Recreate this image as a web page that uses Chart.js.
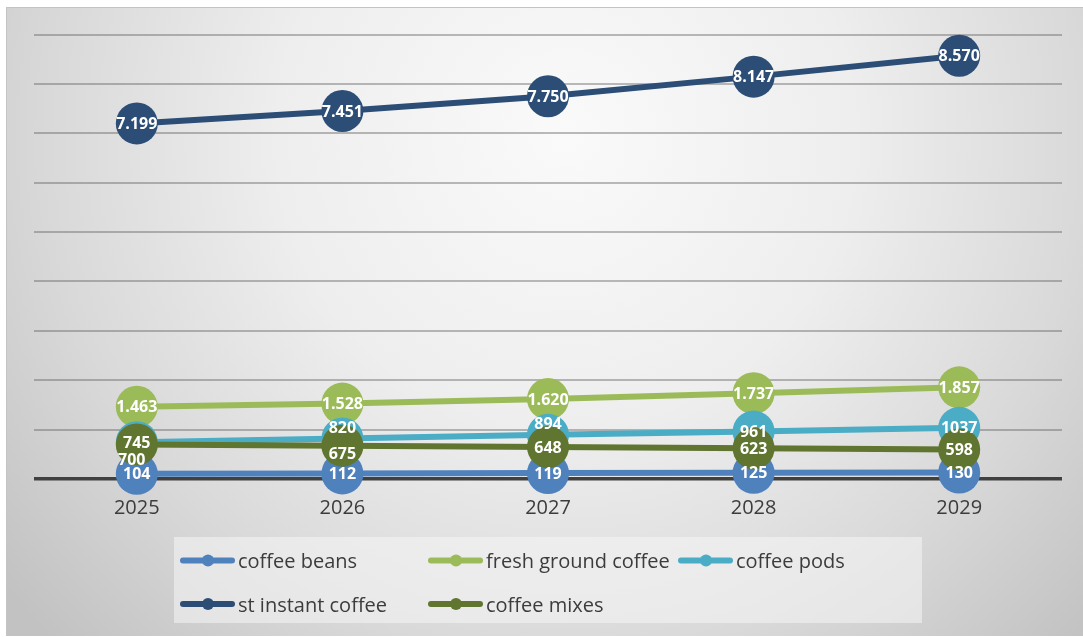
<!DOCTYPE html>
<html>
<head>
<meta charset="utf-8">
<script src="https://cdn.jsdelivr.net/npm/chart.js@4.4.1/dist/chart.umd.min.js"></script>
<style>
  html, body { margin: 0; padding: 0; background: #ffffff; }
  #wrap { position: absolute; left: 6px; top: 7px; width: 1077px; height: 629px; }
</style>
</head>
<body>
<div id="wrap"><canvas id="chart" width="1077" height="629"></canvas></div>
<script>
// Market volume per product type, 2025-2029
const years = ['2025', '2026', '2027', '2028', '2029'];
const coffeeBeans   = [104, 112, 119, 125, 130];
const freshGround   = [1463, 1528, 1620, 1737, 1857];
const coffeePods    = [745, 820, 894, 961, 1037];
const instantCoffee = [7199, 7451, 7750, 8147, 8570];
const coffeeMixes   = [700, 675, 648, 623, 598];
const seriesNames = ['coffee beans', 'fresh ground coffee', 'coffee pods', 'st instant coffee', 'coffee mixes'];

// Thousands separator used in the value labels ('' = none)
function fmt(v, sep) {
  const s = String(v);
  return (sep && s.length > 3) ? s.slice(0, -3) + sep + s.slice(-3) : s;
}

// Nudges for labels that would otherwise sit on top of each other
const labelNudge = {
  pods:  { 1: [0, -11], 2: [0, -11] },
  mixes: { 0: [-5, 15], 1: [0, 8] }
};

const FONT = '"Open Sans", "DejaVu Sans", sans-serif';

const background = {
  id: 'background',
  beforeDraw(chart) {
    const { ctx, width, height } = chart;
    ctx.save();
    const g = ctx.createRadialGradient(560, 130, 0, 560, 130, 720);
    g.addColorStop(0, '#fafafa');
    g.addColorStop(0.4, '#eeeeee');
    g.addColorStop(0.72, '#d9d9d9');
    g.addColorStop(1, '#c2c2c2');
    ctx.fillStyle = g;
    ctx.fillRect(0, 0, width, height);
    ctx.strokeStyle = '#c4c4c4';
    ctx.lineWidth = 1;
    ctx.strokeRect(0.5, 0.5, width, height);
    ctx.restore();
  }
};

const valueLabels = {
  id: 'valueLabels',
  afterDatasetsDraw(chart) {
    const ctx = chart.ctx;
    ctx.save();
    ctx.font = 'bold 16px ' + FONT;
    ctx.fillStyle = '#ffffff';
    ctx.textAlign = 'center';
    ctx.textBaseline = 'middle';
    chart.data.datasets.forEach((ds, i) => {
      const meta = chart.getDatasetMeta(i);
      const nudge = labelNudge[ds.key] || {};
      meta.data.forEach((pt, j) => {
        const n = nudge[j] || [0, 0];
        ctx.fillText(fmt(ds.data[j], ds.sep), pt.x + n[0], pt.y + n[1] + 1);
      });
    });
    ctx.restore();
  }
};

const boxLegend = {
  id: 'boxLegend',
  afterDraw(chart) {
    const ctx = chart.ctx;
    ctx.save();
    ctx.fillStyle = 'rgba(245,245,245,0.55)';
    ctx.fillRect(168, 530, 748, 86);
    const cols = [174, 422, 672];
    const rows = [555.5, 599];
    const slots = [[0, 0], [1, 0], [2, 0], [0, 1], [1, 1]];
    ctx.font = '20px ' + FONT;
    ctx.textBaseline = 'middle';
    ctx.textAlign = 'left';
    chart.data.datasets.forEach((ds, i) => {
      const [c, r] = slots[i];
      const x = cols[c], y = rows[r];
      ctx.strokeStyle = ds.borderColor;
      ctx.lineWidth = 6;
      ctx.lineCap = 'round';
      ctx.beginPath();
      ctx.moveTo(x + 3, y - 2);
      ctx.lineTo(x + 52, y - 2);
      ctx.stroke();
      ctx.fillStyle = ds.borderColor;
      ctx.beginPath();
      ctx.arc(x + 28, y - 2, 6, 0, Math.PI * 2);
      ctx.fill();
      ctx.fillStyle = '#3c3c3c';
      ctx.fillText(ds.label, x + 58, y);
    });
    ctx.restore();
  }
};

function series(key, label, data, color, order, sep) {
  return {
    key, label, data, sep, order,
    borderColor: color,
    backgroundColor: color,
    borderWidth: 6,
    pointRadius: 21,
    pointHoverRadius: 21,
    pointBorderWidth: 0,
    pointBackgroundColor: color,
    tension: 0,
    clip: false
  };
}

new Chart(document.getElementById('chart'), {
  type: 'line',
  data: {
    labels: years,
    datasets: [
      series('beans',   seriesNames[0], coffeeBeans,   '#4f81bd', 5, '.'),
      series('fresh',   seriesNames[1], freshGround,   '#9bbb59', 4, '.'),
      series('pods',    seriesNames[2], coffeePods,    '#4bacc6', 3, ''),
      series('instant', seriesNames[3], instantCoffee, '#2c4d75', 2, '.'),
      series('mixes',   seriesNames[4], coffeeMixes,   '#5f7530', 1, '.')
    ]
  },
  options: {
    responsive: false,
    animation: false,
    devicePixelRatio: 1,
    layout: { padding: { left: 28, right: 21, top: 27.5, bottom: 0 } },
    plugins: {
      legend: { display: false },
      tooltip: { enabled: false }
    },
    scales: {
      x: {
        offset: true,
        grid: { display: false, drawTicks: false },
        border: { display: false },
        ticks: { color: '#3c3c3c', font: { family: FONT, size: 20 }, padding: 17 },
        afterFit(scale) { scale.height = 157; }
      },
      y: {
        min: 0,
        max: 9000,
        ticks: { display: false, stepSize: 1000 },
        border: { display: false },
        grid: {
          drawTicks: false,
          color: ctx => ctx.tick.value === 0 ? '#404040' : 'rgba(95,95,95,0.42)',
          lineWidth: ctx => ctx.tick.value === 0 ? 3.5 : 2
        }
      }
    }
  },
  plugins: [background, valueLabels, boxLegend]
});
</script>
</body>
</html>
